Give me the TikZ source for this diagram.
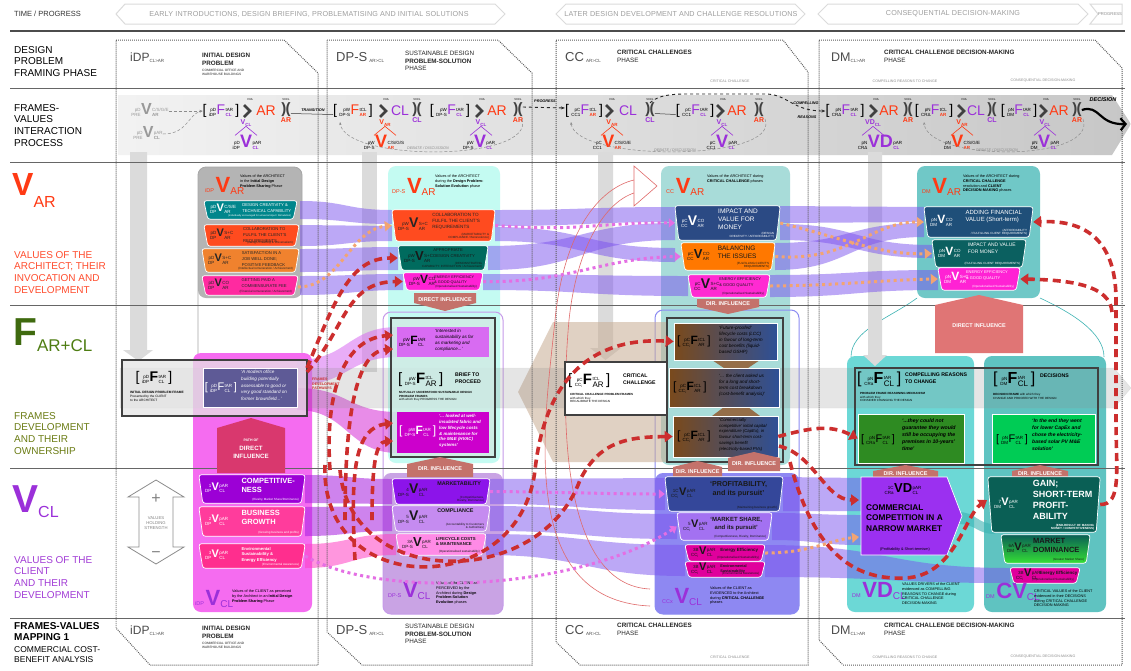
\documentclass[tikz,border=0pt]{standalone}
\usepackage{fontspec}
\setmainfont{Liberation Sans}
\setsansfont{Liberation Sans}
\usetikzlibrary{calc,arrows.meta}

\definecolor{arred}{HTML}{FF3A14}
\definecolor{arlab}{HTML}{FF4D2E}
\definecolor{clp}{HTML}{9B30D9}
\definecolor{cllab}{HTML}{A23CD6}
\definecolor{fgreen}{HTML}{3F6A0F}
\definecolor{fgreen2}{HTML}{4E7D12}
\definecolor{folive}{HTML}{6B7C14}
\definecolor{boxgray}{HTML}{B4B4B4}
\definecolor{ateal}{HTML}{00868C}
\definecolor{aorred}{HTML}{FF4B1F}
\definecolor{aorange}{HTML}{F0822E}
\definecolor{amag}{HTML}{FF2AA0}
\definecolor{pinkbox}{HTML}{F56CF0}
\definecolor{cpurple}{HTML}{9C00D6}
\definecolor{cpink}{HTML}{FF3C9C}
\definecolor{cpink2}{HTML}{FF2E8E}
\definecolor{slate}{HTML}{5E5A96}
\definecolor{pathred}{HTML}{D9386E}
\definecolor{dpcyan}{HTML}{C4FBF2}
\definecolor{dpteal}{HTML}{006B5E}
\definecolor{dpmag}{HTML}{FF22D4}
\definecolor{influ}{HTML}{C4726B}
\definecolor{lavline}{HTML}{C69BE9}
\definecolor{lavfill}{HTML}{C9A3E4}
\definecolor{dpframe}{HTML}{D0EBE5}
\definecolor{lilacbox}{HTML}{D86BF2}
\definecolor{magbox}{HTML}{CC00CC}
\definecolor{dpcpurple}{HTML}{8C14EA}
\definecolor{dpclilac}{HTML}{C58BF0}
\definecolor{dpcpink}{HTML}{FF8AE6}
\definecolor{ccteal}{HTML}{A8DCD9}
\definecolor{ccnavy}{HTML}{2B4A84}
\definecolor{ccorange}{HTML}{FF7800}
\definecolor{ccmag}{HTML}{FF2AD2}
\definecolor{ccline}{HTML}{8C8CF2}
\definecolor{ccfill}{HTML}{8E88F2}
\definecolor{brn}{HTML}{7A4A1C}
\definecolor{steelb}{HTML}{2E5096}
\definecolor{tanc}{HTML}{C8AC93}
\definecolor{ccnavy2}{HTML}{34479A}
\definecolor{cclav}{HTML}{A371F1}
\definecolor{ccmag2}{HTML}{E0009C}
\definecolor{dmteal}{HTML}{70C8C7}
\definecolor{dmnavy}{HTML}{1F4F79}
\definecolor{dmteal2}{HTML}{0B6060}
\definecolor{dmcyan}{HTML}{6CD8D6}
\definecolor{dmcyan2}{HTML}{5FC3C1}
\definecolor{dmgreen}{HTML}{2E8B22}
\definecolor{dmlime}{HTML}{00CC55}
\definecolor{dmred}{HTML}{E07575}
\definecolor{vdpurple}{HTML}{9B30F0}
\definecolor{gaintl}{HTML}{0A5F55}
\definecolor{mkgreen}{HTML}{35E035}
\definecolor{flowp}{HTML}{7B52EE}
\definecolor{flowm}{HTML}{A61EE0}
\definecolor{flowk}{HTML}{FF40C4}
\definecolor{rdash}{HTML}{CC2E2E}
\definecolor{pdot}{HTML}{E46FE4}
\definecolor{odot}{HTML}{F2A472}
\definecolor{hollow}{HTML}{E06A6A}
\definecolor{tealline}{HTML}{3DB3B3}

\newcommand\fs[1]{\fontsize{#1}{#1}\selectfont\setlength\baselineskip{1.18\baselineskip}}
\newcommand\fsl[2]{\fontsize{#1}{#2}\selectfont}
% small stacked pre/post indices
\newcommand\stk[3][r]{{\fontsize{4.5}{5}\selectfont\mdseries\begin{tabular}[c]{@{}#1@{}}#2\\#3\end{tabular}}}
\newcommand\sy[5]{\stk{#1}{#2}\kern.4pt#3\kern.4pt\stk[l]{#4}{#5}}
% header symbol: presub, letter, sub, colour
\newcommand\hs[4]{\textcolor{#4}{{\fsl{5.5}{6}#1}\,{\fsl{22}{22}\bfseries #2}\raisebox{-2.5pt}{\fsl{10}{10}#3}}}
% curved flow band between two vertical spans
\newcommand\band[7][flowAR]{\fill[#1] (#2,#3) .. controls ({(#2+#5)/2},#3) and ({(#2+#5)/2},#6) .. (#5,#6) -- (#5,#7) .. controls ({(#2+#5)/2},#7) and ({(#2+#5)/2},#4) .. (#2,#4) -- cycle;}
% value item: [title font]{fill keys}{text colour}{name}{geometry}{symbol}{title}{note}{title x fraction}
\newcommand\vitem[9][\fsl{4.2}{5.6}]{%
  \node[inner sep=0pt,#5] (#4) {};
  \path[#2,draw=white,line width=.7pt,rounded corners=2.5pt] (#4.north west) -- (#4.north east) -- ([xshift=-4pt]#4.south east) -- ([xshift=4pt]#4.south west) -- cycle;
  \node[anchor=west,inner sep=0pt,text=#3,font=\bfseries\fsl{11}{11}] (#4-s) at ([xshift=6pt,yshift=.5pt]#4.west) {#6};
  \node[anchor=north west,inner sep=0pt,text=#3,align=left,font=#1] (#4-t) at ($(#4.north west)!#9!(#4.north east)+(0,3)$) {#7};
  \node[anchor=south east,inner sep=0pt,text=#3,align=right,font=\fsl{3}{3.6}] (#4-n) at ([xshift=-6pt,yshift=1.5pt]#4.south east) {#8};
}
% interaction-process glyphs
\newcommand\chev[2]{\coordinate (#1) at (#2); \draw[chevs] ([shift={(-3,-6)}]#1) -- ([shift={(3,0)}]#1) -- ([shift={(-3,6)}]#1);
  \node[inner sep=0pt,font=\fsl{2.8}{3}] (#1-v) at ([shift={(3,-11)}]#1) {VXA};}
\newcommand\bow[4]{\node[dbl] (#1) at (#2) {)\kern-.8pt(};
  \node[inner sep=0pt,font=\fsl{2.8}{3}] (#1-v) at ([yshift=10pt]#1.center) {VXCL};
  \node[inner sep=0pt,text=#3,font=\bfseries\fsl{7}{7}] (#1-l) at ([yshift=-10pt]#1.center) {#4};}
\newcommand\smallv[5]{\node[inner sep=0pt,text=#3,font=\bfseries\fsl{7}{7}] (#1) at (#2) {#4\raisebox{-1.5pt}{\fsl{4.5}{4.5}#5}};
  \draw[#3,line width=.6pt] (#1.south) -- +(-11,9); \draw[#3,line width=.6pt] (#1.south) -- +(11,9);}
% phase header row
\newcommand\phasehead[3]{%
 \node[anchor=west,inner sep=0pt,text=black!70,font=\fsl{12}{12}] (idp#3) at (130,#1) {iDP\raisebox{-1pt}{\fsl{4.5}{4.5}CL>AR}};
 \node[txt,text=black!85,font=\bfseries\fsl{6.3}{7.4}] (idpt#3) at (202,{#1-5}) {INITIAL DESIGN\\PROBLEM};
 \node[txt,text=black!85,font=\fsl{3.2}{3.9}] (idps#3) at (202,{#1+11}) {COMMERCIAL OFFICE AND\\WAREHOUSE BUILDINGS};
 \node[anchor=west,inner sep=0pt,text=black!70,font=\fsl{13}{13}] (dps#3) at (336,{#1-1}) {DP-S\,\raisebox{-1pt}{\fsl{4.5}{4.5}AR>CL}};
 \node[txt,text=black!85,font=\fsl{6.3}{7.6}] (dpst#3) at (405,{#1-7}) {SUSTAINABLE DESIGN\\\textbf{PROBLEM-SOLUTION}\\PHASE};
 \node[anchor=west,inner sep=0pt,text=black!70,font=\fsl{13}{13}] (cc#3) at (565,{#1-1}) {CC\,\raisebox{-1pt}{\fsl{4.5}{4.5}AR>CL}};
 \node[txt,text=black!85,font=\fsl{6.3}{7.6}] (cct#3) at (617,{#1-8}) {\textbf{CRITICAL CHALLENGES}\\PHASE};
 \node[anchor=west,inner sep=0pt,text=black!70,font=\fsl{12.5}{12.5}] (dm#3) at (831,#1) {DM\raisebox{-1pt}{\fsl{4.5}{4.5}CL>AR}};
 \node[txt,text=black!85,font=\fsl{6.3}{7.6}] (dmt#3) at (884,{#1-8}) {\textbf{CRITICAL CHALLENGE DECISION-MAKING}\\PHASE};
 \node[inner sep=0pt,text=black!45,font=\fsl{3.6}{4}] (capa#3) at (730,#2) {CRITICAL CHALLENGE};
 \node[inner sep=0pt,text=black!45,font=\fsl{3.6}{4}] (capb#3) at (905,#2) {COMPELLING REASONS TO CHANGE};
 \node[inner sep=0pt,text=black!45,font=\fsl{3.6}{4}] (capc#3) at (1043,#2) {CONSEQUENTIAL DECISION-MAKING};
}

\begin{document}
\begin{tikzpicture}[x=1pt,y=-1pt,
  txt/.style={inner sep=0pt,anchor=north west,align=left},
  rowline/.style={draw=black!60,line width=.9pt},
  phaseline/.style={draw=black!65,line width=1pt,dash pattern=on .9pt off 1.1pt},
  chevron/.style={draw=black!14,line width=1pt,fill=white},
  chevtext/.style={inner sep=0pt,text=black!38,font=\fs{7.2}\addfontfeature{LetterSpace=2.5}},
  gbar/.style={fill=black!14},
  flowAR/.style={fill=flowp,opacity=.5},
  flowCL/.style={fill=flowm,opacity=.55},
  flowPK/.style={fill=flowk,opacity=.55},
  rdarrow/.style={draw=rdash,line width=3.6pt,dash pattern=on 8pt off 5pt,-{Triangle[length=8pt,width=11pt]}},
  pdots/.style={draw=pdot,line width=3pt,dash pattern=on 3pt off 3.5pt,-{Triangle[length=6pt,width=9pt]}},
  odots/.style={draw=odot,line width=3pt,dash pattern=on 3pt off 3.5pt,-{Triangle[length=7pt,width=10pt]}},
  frm/.style={draw=black!75,line width=2pt},
  infltext/.style={inner sep=0pt,text=white,font=\bfseries\fsl{5.5}{6}},
  chevs/.style={draw=black!75,line width=2.6pt,line join=miter},
  dbl/.style={inner sep=0pt,text=black!75,font=\bfseries\fsl{15}{15}},
  big/.style={inner sep=0pt,font=\fsl{14}{14}},
  gdash/.style={draw=black!45,densely dashed,line width=.5pt,-{Stealth[length=3pt]}},
  hollowline/.style={draw=hollow,line width=.6pt},
]
\useasboundingbox (0,0) rectangle (1131,670);
\fill[white] (0,0) rectangle (1131,670);

%% interaction-process band
\shade[left color=black!5,right color=black!22] (118,95) -- (1112,95) -- (1131,124) -- (1112,155) -- (118,155) -- cycle;

%% containers
\path[fill=boxgray,rounded corners=8pt] (198,167) rectangle (302,298);
\draw[black!35,line width=.8pt,rounded corners=8pt] (198,167) rectangle (302,420);
\path[fill=dpcyan,rounded corners=8pt] (388,166) rectangle (500,463);
\path[fill=ccteal,rounded corners=8pt] (661,166) rectangle (790,465);
\path[fill=dmteal,rounded corners=8pt] (917,166) rectangle (1040,298);
\path[fill=pinkbox,rounded corners=8pt] (193,353) rectangle (312,612);
\path[fill=lavfill,rounded corners=8pt] (383,473) rectangle (503,614);
\draw[lavline,line width=1pt,rounded corners=8pt] (383,312) rectangle (503,614);
\path[fill=ccfill,rounded corners=8pt] (655,473) rectangle (799,614);
\draw[ccline,line width=1pt,rounded corners=8pt] (655,310) rectangle (799,614);
\path[fill=dmcyan,rounded corners=8pt] (847,356) rectangle (974,612);
\path[fill=dmcyan2,rounded corners=8pt] (984,356) rectangle (1106,612);
\draw[tealline,line width=.6pt] (851,357) .. controls (851,330) and (890,318) .. (917,298);
\draw[tealline,line width=.6pt] (1104,357) .. controls (1104,332) and (1070,312) .. (1040,298);

%% vertical progress bars
\fill[gbar] (130,152) -- (147,152) -- (147,350) -- (153,350) -- (138.5,361) -- (123,350) -- (130,350) -- cycle;
\fill[gbar] (362,152) rectangle (377,372);
\fill[gbar] (598,152) -- (613,152) -- (613,348) -- (621,348) -- (605.5,360) -- (590,348) -- (598,348) -- cycle;
\fill[gbar] (868,152) -- (882,152) -- (882,355) -- (887,355) -- (875,366) -- (863,355) -- (868,355) -- cycle;

%% frame pathways
\fill[tanc,opacity=.55] (667,322) -- (553,322) -- (518,392) -- (553,462) -- (667,462) -- cycle;
\band[fill=lilacbox,opacity=.55]{297}{360}{385}{398}{327}{357}
\band[fill=magbox,opacity=.45]{297}{388}{410}{398}{412}{453}

%% value flows: architect
\band{300}{201}{219}{392}{210}{224}
\band{300}{225}{246}{392}{226}{241}
\band{300}{249}{272}{398}{247}{270}
\band{300}{276}{295}{403}{274}{290}
\band{495}{210}{226}{675}{207}{222}
\band{495}{227}{241}{675}{248}{262}
\band{488}{246}{270}{675}{223}{240}
\band{483}{274}{290}{688}{276}{296}
\band{780}{206}{223}{924}{207}{222}
\band{780}{224}{240}{932}{245}{258}
\band{775}{243}{270}{924}{223}{237}
\band{770}{275}{297}{938}{270}{290}
%% value flows: client
\band[flowCL]{305}{475}{503}{392}{479}{504}
\band[flowCL]{305}{507}{536}{392}{506}{531}
\band[flowPK]{305}{544}{568}{396}{534}{555}
\band{490}{479}{504}{665}{478}{510}
\band{490}{506}{531}{677}{514}{539}
\band{486}{534}{555}{685}{545}{576}
\band{783}{477}{511}{861}{478}{511}
\band{772}{513}{540}{861}{515}{545}
\band{765}{545}{577}{1010}{568}{583}
\band[fill=tealline,opacity=.6]{958}{512}{524}{995}{524}{534}

%% frames band
\fill[black!45,opacity=.22,draw=black!30] (120,368) -- (1114,368) -- (1131,388) -- (1114,408) -- (120,408) -- cycle;

%% row rules and phase outlines
\draw[draw=black!70,line width=1.2pt] (10,31) -- (1125,31);
\foreach \yy in {88,162,305,468,618} \draw[rowline] (10,\yy) -- (1125,\yy);
\draw[phaseline] (116,40) -- (284,40) -- (318,73) -- (318,665) -- (150,665) -- (116,628) -- cycle;
\draw[phaseline] (327,40) -- (498,40) -- (532,73) -- (532,665) -- (362,665) -- (327,632) -- cycle;
\draw[phaseline] (556,40) -- (783,40) -- (808,72) -- (808,665) -- (580,665) -- (556,642) -- cycle;
\draw[phaseline] (819,40) -- (1095,40) -- (1122,68) -- (1122,665) -- (843,665) -- (819,640) -- cycle;

%% hollow arrow
\draw[hollowline] (650,606) .. controls (515,600) and (545,420) .. (555,320) .. controls (564,230) and (600,188) .. (634,180);
\draw[hollowline] (650,589) .. controls (562,585) and (560,420) .. (569,320) .. controls (577,245) and (606,202) .. (634,193);
\draw[hollowline,fill=white] (634,166) -- (657,186) -- (634,206) -- cycle;

%% time line
\node[anchor=west,inner sep=0pt,text=black!80,font=\fs{7.5}] (tp) at (14,14) {TIME / PROGRESS};
\path[chevron] (116,14) -- (125,4) -- (495,4) -- (505,14) -- (495,24) -- (125,24) -- cycle;
\node[chevtext] (t1) at (309,14) {EARLY INTRODUCTIONS, DESIGN BRIEFING, PROBLEMATISING AND INITIAL SOLUTIONS};
\path[chevron] (556,14) -- (566,4) -- (795,4) -- (805,14) -- (795,24) -- (566,24) -- cycle;
\node[chevtext] (t2) at (681,14) {LATER DESIGN DEVELOPMENT AND CHALLENGE RESOLUTIONS};
\path[chevron] (818,14) -- (828,4) -- (1078,4) -- (1088,14) -- (1078,24) -- (828,24) -- cycle;
\node[chevtext] (t3) at (953,14) {CONSEQUENTIAL DECISION-MAKING};
\path[chevron] (1090,4) -- (1122,4) -- (1122,24) -- (1090,24) -- (1098,14) -- cycle;
\node[inner sep=0pt,text=black!45,font=\fsl{4.2}{5}] (t4) at (1110,14) {PROGRESS};

%% left labels
\node[txt,font=\fs{10}] (lab1) at (14,46) {DESIGN\\PROBLEM\\FRAMING PHASE};
\node[txt,font=\fs{10}] (lab2) at (14,104) {FRAMES-\\VALUES\\INTERACTION\\PROCESS};
\node[anchor=north west,inner sep=0pt,text=arred] (var) at (12,173) {{\fsl{32}{32}\bfseries V}\raisebox{-12pt}{\fsl{16}{16}AR}};
\node[txt,text=arlab,font=\fs{10}] (lab3) at (14,251) {VALUES OF THE\\ARCHITECT; THEIR\\INVOCATION AND\\DEVELOPMENT};
\node[anchor=north west,inner sep=0pt] (far) at (13,318) {\textcolor{fgreen}{\fsl{39}{39}\bfseries F}\raisebox{-6pt}{\textcolor{fgreen2}{\fsl{17}{17}AR+CL}}};
\node[txt,text=folive,font=\fs{10}] (lab4) at (14,412) {FRAMES\\DEVELOPMENT\\AND THEIR\\OWNERSHIP};
\node[anchor=north west,inner sep=0pt,text=clp] (vcl) at (12,485) {{\fsl{39}{39}\bfseries V}\raisebox{-5pt}{\fsl{16}{16}CL}};
\node[txt,text=cllab,font=\fs{10}] (lab5) at (14,556) {VALUES OF THE\\CLIENT\\AND THEIR\\DEVELOPMENT};
\node[txt,font=\bfseries\fs{10}] (lab6) at (14,622) {FRAMES-VALUES\\MAPPING 1};
\node[txt,font=\fsl{8.5}{10}] (lab7) at (14,646) {COMMERCIAL COST-\\BENEFIT ANALYSIS};

%% phase headers
\phasehead{58}{81}{T}
\phasehead{631}{657}{B}

%% ---- frames-values interaction process
\node[inner sep=0pt,text=black!40,font=\bfseries\fsl{16}{16}] (preAR) at (150,111) {\sy{pD}{PRE}{V}{C/S/G/E}{\textbf{AR}}};
\node[inner sep=0pt,text=black!40,font=\bfseries\fsl{16}{16}] (preCL) at (148,134) {\sy{pD}{PRE}{V}{pAR}{\textbf{CL}}};
\node[big] (idpF) at (221,111) {[\,\sy{pD}{iDP}{\textcolor{clp}{F}}{tAR}{\textcolor{clp}{\textbf{CL}}}\,]};
\draw[gdash] (preAR.east) -- (idpF.west);
\draw[gdash] (preCL.east) .. controls (188,134) and (188,114) .. (idpF.west);
\chev{idpC}{247,111}
\node[big,text=arred] (idpAR) at (266,111) {AR};
\bow{idpX}{286,110}{arred}{AR}
\smallv{idpvc}{246,123}{clp}{V}{CL}
\node[inner sep=0pt,font=\fsl{18}{18}] (idpVC) at (247,143) {\sy{pD}{iDP}{\textcolor{clp}{\textbf{V}}}{pAR}{\textcolor{clp}{\textbf{CL}}}};
\node[inner sep=0pt,font=\bfseries\itshape\fsl{3.8}{4}] (trans) at (313,110) {TRANSITION};

\node[big] (dpsF1) at (353,111) {[\,\sy{pW}{DP-S}{\textcolor{arred}{F}}{tCL}{\textcolor{arred}{\textbf{AR}}}\,]};
\draw[black!80,line width=.5pt] ([yshift=-3.5pt]idpX.east) -- ([yshift=-3.5pt]dpsF1.west);
\chev{dpsC1}{383,111}
\node[big,text=clp] (dpsCL) at (400,111) {CL};
\bow{dpsX1}{417,110}{clp}{CL}
\smallv{dpsva}{385,123}{arred}{V}{AR}
\node[inner sep=0pt,font=\fsl{18}{18}] (dpsVA) at (384,143) {\sy{pW}{DP-S}{\textcolor{arred}{\textbf{V}}}{C/S/G/S}{\textcolor{arred}{\textbf{AR}}}};
\node[big] (dpsF2) at (450,111) {[\,\sy{pW}{DP-S}{\textcolor{clp}{F}}{tAR}{\textcolor{clp}{\textbf{CL}}}\,]};
\chev{dpsC2}{479,111}
\node[big,text=arred] (dpsAR) at (497,111) {AR};
\bow{dpsX2}{518,110}{arred}{AR}
\smallv{dpsvc}{481,123}{clp}{V}{CL}
\node[inner sep=0pt,font=\fsl{18}{18}] (dpsVC) at (479,143) {\sy{pW}{DP-S}{\textcolor{clp}{\textbf{V}}}{pAR}{\textcolor{clp}{\textbf{CL}}}};
\draw[gdash] (522,119) .. controls (536,162) and (345,162) .. (340,122);
\node[inner sep=0pt,text=black!45,font=\itshape\fsl{3.8}{4}] (deb1) at (428,148) {DEBATE / DISCUSSION};

\node[big] (ccF1) at (584,111) {[\,\sy{pC}{CC1}{\textcolor{clp}{F}}{tCL}{\textcolor{arred}{\textbf{AR}}}\,]};
\draw[black!85,dashed,line width=.9pt,-{Stealth[length=4pt]}] ([yshift=3pt]dpsX2.east) -- ([yshift=3pt]ccF1.west);
\node[inner sep=0pt,font=\bfseries\itshape\fsl{3.8}{4}] (prog) at (545,101) {PROGRESS};
\chev{ccC1}{609,111}
\node[big,text=clp] (ccCL) at (628,111) {CL};
\bow{ccX1}{650,110}{clp}{CL}
\smallv{ccva}{612,123}{arred}{V}{AR}
\node[inner sep=0pt,font=\fsl{18}{18}] (ccVA) at (612,143) {\sy{pC}{CC1}{\textcolor{arred}{\textbf{V}}}{C/S/G/E}{\textcolor{arred}{\textbf{AR}}}};
\node[big] (ccF2) at (695,111) {[\,\sy{pC}{CC1}{\textcolor{clp}{F}}{tAR}{\textcolor{clp}{\textbf{CL}}}\,]};
\draw[black!80,line width=.5pt] ([yshift=-3.5pt]ccX1.east) -- ([yshift=-3.5pt]ccF2.west);
\chev{ccC2}{720,111}
\node[big,text=arred] (ccAR) at (737,111) {AR};
\bow{ccX2}{759,110}{arred}{AR}
\smallv{ccvc}{722,123}{clp}{V}{CL}
\node[inner sep=0pt,font=\fsl{18}{18}] (ccVC) at (722,143) {\sy{pC}{CC1}{\textcolor{clp}{\textbf{V}}}{pAR}{\textcolor{clp}{\textbf{CL}}}};
\draw[gdash] (765,119) .. controls (782,162) and (575,162) .. (571,122);
\node[inner sep=0pt,text=black!45,font=\itshape\fsl{3.8}{4}] (deb2) at (675,150) {DEBATE / DISCUSSION};

\node[big] (dmF1) at (845,111) {[\,\sy{pN}{CRΔ}{\textcolor{clp}{F}}{tAR}{\textcolor{clp}{\textbf{CL}}}\,]};
\draw[black!85,dashed,line width=.9pt,-{Stealth[length=4pt]}] (ccX1.north) .. controls (660,93) and (680,94) .. (700,94) -- (765,94) .. controls (788,94) and (792,111) .. (dmF1.west);
\node[inner sep=0pt,font=\bfseries\itshape\fsl{3.8}{4}] (comp1) at (806,103) {COMPELLING};
\node[inner sep=0pt,font=\bfseries\itshape\fsl{3.8}{4}] (comp2) at (807,117) {REASONS};
\chev{dmC1}{873,111}
\node[big,text=arred] (dmAR1) at (889,111) {AR};
\bow{dmX1}{908,110}{arred}{AR}
\smallv{dmvd}{873,123}{clp}{VD}{CL}
\node[inner sep=0pt,font=\fsl{18}{18}] (dmVD) at (880,143) {\sy{pN}{CRΔ}{\textcolor{clp}{\textbf{VD}}}{pAR}{\textcolor{clp}{\textbf{CL}}}};
\node[big] (dmF2) at (934,111) {[\,\sy{pN}{CRΔ}{\textcolor{clp}{F}}{tCL}{\textcolor{arred}{\textbf{AR}}}\,]};
\chev{dmC2}{961,111}
\node[big,text=clp] (dmCL) at (976,111) {CL};
\bow{dmX2}{992,110}{clp}{CL}
\smallv{dmva}{962,123}{arred}{V}{AR}
\node[inner sep=0pt,font=\fsl{18}{18}] (dmVA) at (962,143) {\sy{pN}{DM}{\textcolor{arred}{\textbf{V}}}{C/S/G/E}{\textcolor{arred}{\textbf{AR}}}};
\node[big] (dmF3) at (1019,111) {[\,\sy{pN}{DM}{\textcolor{clp}{F}}{tAR}{\textcolor{clp}{\textbf{CL}}}\,]};
\chev{dmC3}{1043,111}
\node[big,text=arred] (dmAR2) at (1059,111) {AR};
\bow{dmX3}{1077,110}{arred}{AR}
\smallv{dmvc}{1045,123}{clp}{V}{CL}
\node[inner sep=0pt,font=\fsl{18}{18}] (dmVC) at (1045,143) {\sy{pN}{DM}{\textcolor{clp}{\textbf{V}}}{pAR}{\textcolor{clp}{\textbf{CL}}}};
\draw[gdash] (1083,119) .. controls (1098,162) and (928,162) .. (924,122);
\node[inner sep=0pt,text=black!45,font=\itshape\fsl{3.8}{4}] (deb3) at (997,150) {DEBATE / DISCUSSION};
\node[inner sep=0pt,font=\bfseries\itshape\fsl{5.5}{6}] (dec) at (1103,100) {DECISION};
\draw[black,line width=2.2pt,-{Straight Barb[length=5pt,width=12pt]}] (dmX3.east) .. controls (1100,104) and (1098,125) .. (1127,124);

%% ---- iDP column
\node[anchor=base west,inner sep=0pt] (iaH) at (205,192) {\hs{iDP}{V}{AR}{arred}};
\node[txt,font=\fsl{3.8}{4.6}] (iaHt) at (240,175) {Values of the ARCHITECT\\in the \textbf{Initial Design}\\\textbf{Problem Sharing} Phase};
\vitem{fill=ateal}{white}{ia1}{at={(250.5,210)},minimum width=93,minimum height=18}{\sy{pD}{DP}{V}{C/S/E}{AR}}{DESIGN CREATIVITY \&\\TECHNICAL CAPABILITY}{\fsl{2.5}{3}(Individually encouraged for universal input / Stimulation)}{.41}
\vitem{fill=aorred}{black!85}{ia2}{at={(251.5,235.5)},minimum width=95,minimum height=21}{\sy{pD}{DP}{V}{S+C}{AR}}{COLLABORATION TO\\FULFIL THE CLIENT'S\\REQUIREMENTS}{(Design Creativity \& Universalism)}{.41}
\vitem{fill=aorange}{black!85}{ia3}{at={(250.5,260.5)},minimum width=97,minimum height=23}{\sy{pD}{DP}{V}{S+C}{AR}}{SATISFACTION IN A\\JOB WELL DONE;\\POSITIVE FEEDBACK}{(Intellectual remuneration / Achievement)}{.41}
\vitem{fill=amag}{black!85}{ia4}{at={(250,285.5)},minimum width=96,minimum height=19}{\sy{pD}{DP}{V}{CO}{AR}}{GETTING PAID A\\COMMENSURATE FEE}{(Financial remuneration / Achievement)}{.41}

\path[fill=black!10,opacity=.75] (122,360) rectangle (307,416);
\node[inner sep=0pt,font=\fsl{14}{14}] (idpFr) at (154,378) {[\,\sy{pD}{iDP}{\textbf{F}}{tAR}{CL}\,]};
\node[txt,font=\fsl{3.2}{3.8}] (idpFrt) at (130,391) {\textbf{INITIAL DESIGN PROBLEM FRAME}\\Presented by the CLIENT\\to the ARCHITECT};
\node[fill=slate,draw=white,line width=.6pt,inner sep=0pt,minimum width=94,minimum height=39] (idpQ) at (250,387.5) {};
\node[inner sep=0pt,text=white,font=\fsl{11}{11}] (idpQs) at (221,388) {[\,\sy{pD}{iDP}{F}{tAR}{CL}\,]};
\node[txt,text=white,font=\itshape\fsl{4.6}{6.8}] (idpQt) at (241,370) {‘A modern office\\building potentially\\assessable to good or\\very good standard on\\former brownfield...’};
\draw[frm] (122,360) rectangle (307,416);
\node[txt,text=rdash,font=\bfseries\fsl{3.6}{4.4}] (fdp) at (312,378) {FRAMES\\DEVELOPMENT\\PATHWAYS};

\path[fill=pathred] (217,428) -- (251,418) -- (285,428) -- (285,473) -- (217,473) -- cycle;
\node[inner sep=0pt,text=white,font=\bfseries\fsl{3.5}{4}] (pathA) at (251,440) {PATH OF};
\node[inner sep=0pt,text=white,align=center,font=\bfseries\fsl{6.2}{8}] (pathB) at (251,452) {DIRECT\\INFLUENCE};

\vitem[\bfseries\fsl{7.5}{9.3}]{fill=cpurple}{white}{ic1}{at={(252,489)},minimum width=106,minimum height=28}{\sy{1}{DP}{V}{pAR}{CL}}{COMPETITIVE-\\NESS}{(Rivalry, Market Share/Dominance)}{.4}
\vitem[\bfseries\fsl{7.5}{9.5}]{fill=cpink}{white}{ic2}{at={(252,521.5)},minimum width=106,minimum height=29}{\sy{2}{DP}{V}{pAR}{CL}}{BUSINESS\\GROWTH}{(Growing business and profits)}{.4}
\vitem[\bfseries\fsl{4.2}{5.8}]{fill=cpink2}{white}{ic3}{at={(252,556)},minimum width=106,minimum height=24}{\sy{3}{DP}{V}{pAR}{CL}}{Environmental\\Sustainability \&\\Energy Efficiency}{(Environmental Awareness)}{.4}
\node[anchor=base west,inner sep=0pt] (icF) at (195,605) {\hs{iDP}{V}{CL}{clp}};
\node[txt,font=\fsl{3.8}{4.6}] (icFt) at (232,590) {Values of the CLIENT as perceived\\by the Architect in an \textbf{Initial Design}\\\textbf{Problem Sharing} Phase};

\path[draw=black!45,fill=white,line width=.8pt] (156,480) -- (184,497) -- (173,497) -- (173,547) -- (184,547) -- (156,564) -- (128,547) -- (139,547) -- (139,497) -- (128,497) -- cycle;
\node[inner sep=0pt,text=black!50,font=\fsl{16}{16}] (plus) at (156,499) {+};
\node[inner sep=0pt,text=black!50,font=\fsl{16}{16}] (minus) at (156,555) {−};
\node[inner sep=0pt,text=black!50,align=center,font=\fsl{4.2}{5.2}] (vhs) at (156,523) {VALUES\\HOLDING\\STRENGTH};

%% ---- DP-S column
\node[anchor=base west,inner sep=0pt] (daH) at (392,193) {\hs{DP-S}{V}{AR}{arred}};
\node[txt,font=\fsl{3.8}{4.6}] (daHt) at (435,175) {Values of the ARCHITECT\\during the \textbf{Design Problem-}\\\textbf{Solution Evolution} phase};
\vitem[\fsl{4.6}{6.2}]{fill=aorred}{black!85}{da1}{at={(443.5,225.5)},minimum width=103,minimum height=31}{\fsl{14}{14}\sy{pW}{DP-S}{V}{S+C}{AR}}{COLLABORATION TO\\FULFIL THE CLIENT'S\\REQUIREMENTS}{(MARKETABILITY \&\\COMPLIANCE / Benevolence)}{.39}
\vitem[\fsl{4.2}{5.6}]{fill=dpteal}{black!90}{da2}{at={(443,258)},minimum width=90,minimum height=24}{\fsl{13}{13}\sy{pW}{DP-S}{V}{S+C}{AR}}{APPROPRIATE\\DESIGN CREATIVITY}{(DEMONSTRATING\\CAPABILITY: INTERACTION / Achievement)}{.39}
\vitem[\fsl{3.8}{4.8}]{fill=dpmag}{black!90}{da3}{at={(443,281.5)},minimum width=80,minimum height=17}{\fsl{12}{12}\sy{pW}{DP-S}{V}{CO}{AR}}{ENERGY EFFICIENCY\\\& GOOD QUALITY}{(Operationalised Sustainability)}{.39}
\path[fill=influ] (414,293) -- (476,293) -- (476,303) -- (445,311) -- (414,303) -- cycle;
\node[infltext] (daDI) at (445,300) {DIRECT INFLUENCE};

\path[fill=dpframe,opacity=.85] (391,318) rectangle (495,457);
\node[fill=lilacbox,inner sep=0pt,minimum width=92,minimum height=30] (dpsQ1) at (443,342) {};
\node[anchor=west,inner sep=0pt,font=\fsl{12}{12}] (dpsQ1s) at (399,342) {\sy{pW}{DP-S}{\textbf{F}}{tAR}{CL}};
\node[txt,font=\itshape\fsl{4.5}{6}] (dpsQ1t) at (435,329) {‘Interested in\\sustainability as far\\as marketing and\\compliance...’};
\node[anchor=west,inner sep=0pt,font=\fsl{15}{15}] (dpsFr) at (398,380) {[\,\sy{pW}{DP-S}{\textbf{F}}{tCL}{\fsl{8}{8}AR}\,]};
\node[txt,font=\bfseries\fsl{5.2}{6.5}] (dpsFrt) at (455,373) {BRIEF TO\\PROCEED};
\node[txt,font=\fsl{3}{3.8}] (dpsFrn) at (399,391) {\textbf{MUTUALLY UNDERSTOOD SUSTAINABLE DESIGN}\\\textbf{PROBLEM FRAMES}\\with which they PROGRESS THE DESIGN};
\node[fill=magbox,inner sep=0pt,minimum width=92,minimum height=41] (dpsQ2) at (443,432.5) {};
\node[anchor=west,inner sep=0pt,text=white,font=\fsl{12}{12}] (dpsQ2s) at (399,432) {[\,\sy{pW}{DP-S}{\textbf{F}}{tAR}{CL}\,]};
\node[txt,text=white,font=\bfseries\itshape\fsl{4.4}{5.9}] (dpsQ2t) at (439,414) {‘... looked at well-\\insulated fabric and\\low lifecycle costs\\\& maintenance for\\the M\&E (HVAC)\\systems’};
\draw[frm] (391,318) rectangle (495,457);
\path[fill=influ] (407,464) -- (440,457) -- (473,464) -- (473,477) -- (407,477) -- cycle;
\node[infltext] (dcDI) at (440,469) {DIR. INFLUENCE};

\vitem[\bfseries\fsl{5.4}{6.4}]{fill=dpcpurple}{black!90}{dc1}{at={(441,491.5)},minimum width=98,minimum height=25}{\fsl{14}{14}\sy{4}{DP-S}{V}{pAR}{CL}}{MARKETABILITY}{(Competitiveness,\\Rivalry, Dominance)}{.46}
\vitem[\bfseries\fsl{5.4}{6.4}]{fill=dpclilac}{black!90}{dc2}{at={(441,518.5)},minimum width=98,minimum height=25}{\fsl{14}{14}\sy{5}{DP-S}{V}{pAR}{CL}}{COMPLIANCE}{(Accountability to Customers\\\& Authorities)}{.46}
\vitem[\bfseries\fsl{4.3}{5.6}]{fill=dpcpink}{black!90}{dc3}{at={(441,544.5)},minimum width=90,minimum height=21}{\fsl{13}{13}\sy{3A}{DP-S}{V}{pAR}{CL}}{LIFECYCLE COSTS\\\& MAINTENANCE}{(Operationalised sustainability)}{.44}
\node[anchor=base west,inner sep=0pt] (dcF) at (388,597) {\hs{DP-S}{V}{CL}{clp}};
\node[txt,font=\fsl{3.8}{4.6}] (dcFt) at (436,582) {Values of the CLIENT as\\PERCEIVED by the\\Architect during \textbf{Design}\\\textbf{Problem-Solution}\\\textbf{Evolution} phases};

%% ---- CC column
\node[anchor=base west,inner sep=0pt] (caH) at (666,193) {\hs{CC}{V}{AR}{arred}};
\node[txt,font=\fsl{3.8}{4.6}] (caHt) at (707,175) {Values of the ARCHITECT during\\\textbf{CRITICAL CHALLENGE} phases};
\vitem[\fsl{6.5}{7.8}]{fill=ccnavy}{white}{ca1}{at={(727.5,223)},minimum width=105,minimum height=34}{\fsl{14}{14}\sy{pC}{CC}{V}{CO}{AR}}{IMPACT AND\\VALUE FOR\\MONEY}{(DESIGN\\CREATIVITY / AFFORDABILITY)}{.41}
\vitem[\fsl{6.5}{7.8}]{fill=ccorange}{black!90}{ca2}{at={(728,256.5)},minimum width=94,minimum height=27}{\fsl{13}{13}\sy{pC}{CC}{V}{CO}{AR}}{BALANCING\\THE ISSUES}{(FULFILLING CLIENT'S\\REQUIREMENTS)}{.39}
\vitem[\fsl{4}{5.2}]{fill=ccmag}{black!90}{ca3}{at={(729,286)},minimum width=82,minimum height=22}{\fsl{14}{14}\sy{pC}{CC}{V}{S+C}{AR}}{ENERGY EFFICIENCY\\\& GOOD QUALITY}{(Operationalised Sustainability)}{.38}
\path[fill=influ] (697,299) -- (759,299) -- (759,307) -- (728,314) -- (697,307) -- cycle;
\node[infltext] (caDI) at (728,304) {DIR. INFLUENCE};

\node[frm,fill=white,inner sep=0pt,minimum width=102,minimum height=53] (ccFr) at (616,388.5) {};
\node[anchor=west,inner sep=0pt,font=\fsl{15}{15}] (ccFrs) at (568,381) {[\,\sy{pC}{CC\textsubscript{i}}{\textbf{F}}{tCL}{\fsl{8}{8}AR}\,]};
\node[txt,font=\bfseries\fsl{5.2}{6.5}] (ccFrt) at (623,374) {CRITICAL\\CHALLENGE};
\node[txt,font=\fsl{3}{3.8}] (ccFrn) at (570,393) {\textbf{CRITICAL CHALLENGE PROBLEM FRAMES}\\with which they\\RECALIBRATE THE DESIGN};
\fill[brn!80] (712,360) -- (760,360) -- (748,368) -- (724,368) -- cycle;
\fill[brn!80] (724,407) -- (748,407) -- (760,416) -- (712,416) -- cycle;
\node[draw=white,line width=.6pt,left color=brn,right color=steelb,inner sep=0pt,minimum width=103,minimum height=37] (ccQ1) at (725.5,341.5) {};
\node[anchor=west,inner sep=0pt,font=\fsl{12}{12}] (ccQ1s) at (677,342) {[\,\sy{pC}{CC\textsubscript{i}}{\textbf{F}}{tCL}{AR}\,]};
\node[txt,font=\itshape\fsl{4.6}{6}] (ccQ1t) at (719,326) {‘Future-proofed’\\lifecycle costs (LCC)\\in favour of long-term\\cost benefits (liquid-\\based GSHP)};
\node[draw=white,line width=.6pt,left color=brn,right color=steelb,inner sep=0pt,minimum width=110,minimum height=39] (ccQ2) at (724,387.5) {};
\node[anchor=west,inner sep=0pt,font=\fsl{12}{12}] (ccQ2s) at (673,388) {[\,\sy{pC}{CC\textsubscript{i}}{\textbf{F}}{tCL}{AR}\,]};
\node[txt,font=\itshape\fsl{4.6}{6}] (ccQ2t) at (719,374) {‘... the client asked us\\for a long and short-\\term cost breakdown\\(cost-benefit analysis)’};
\node[draw=white,line width=.6pt,left color=brn,right color=steelb,inner sep=0pt,minimum width=105,minimum height=41] (ccQ3) at (725.5,436.5) {};
\node[anchor=west,inner sep=0pt,font=\fsl{12}{12}] (ccQ3s) at (677,437) {[\,\sy{pC}{CC\textsubscript{i}}{\textbf{F}}{tCL}{AR}\,]};
\node[txt,font=\itshape\fsl{4.3}{5.8}] (ccQ3t) at (719,418) {‘Commercially\\competitive’ initial capital\\expenditure (CapEx), in\\favour short-term cost-\\savings benefit\\(electricity-based PVs)};
\draw[frm] (667,318) rectangle (783,462);
\path[fill=influ] (673,467) -- (697.5,461) -- (722,467) -- (722,480) -- (673,480) -- cycle;
\node[infltext] (ccDI1) at (697.5,472) {DIR. INFLUENCE};
\path[fill=influ] (728,458) -- (754,452) -- (780,458) -- (780,471) -- (728,471) -- cycle;
\node[infltext] (ccDI2) at (754,464) {DIR. INFLUENCE};

\vitem[\bfseries\fsl{7.2}{9.2}]{fill=ccnavy2}{black!90}{cc1}{at={(724,494)},minimum width=118,minimum height=34}{\sy{1C}{CC\textsubscript{i}}{V}{pAR}{CL}}{\begin{tabular}{@{}c@{}}‘PROFITABILITY,\\and its pursuit’\end{tabular}}{(Maintaining business growth)}{.38}
\vitem[\bfseries\fsl{6}{7.8}]{fill=cclav}{black!90}{cc2}{at={(724.5,526.5)},minimum width=95,minimum height=27}{\sy{5}{CC\textsubscript{i}}{V}{pAR}{CL}}{\begin{tabular}{@{}c@{}}‘MARKET SHARE,\\and its pursuit’\end{tabular}}{(Competitiveness, Rivalry, Dominance)}{.35}
\vitem[\bfseries\fsl{4.5}{5}]{fill=ccmag2}{black!90}{cc3}{at={(725,553)},minimum width=80,minimum height=16}{\sy{3B}{CC\textsubscript{i}}{V}{pAR}{CL}}{Energy Efficiency}{(Operationalised Sustainability)}{.44}
\vitem[\bfseries\fsl{3.8}{4.3}]{fill=ccmag2}{black!90}{cc4}{at={(725,569.5)},minimum width=80,minimum height=15}{\sy{3B}{CC\textsubscript{i}}{V}{pAR}{CL}}{Environmental\\Sustainability}{(Environmental Awareness)}{.44}
\node[anchor=base west,inner sep=0pt] (ccF) at (662,603) {\hs{CCx}{V}{CL}{clp}};
\node[txt,font=\fsl{3.8}{4.6}] (ccFt) at (710,587) {Values of the CLIENT as\\EVIDENCED to the Architect\\during \textbf{CRITICAL CHALLENGE}\\phases};

%% ---- DM column
\node[anchor=base west,inner sep=0pt] (maH) at (922,193) {\hs{DM}{V}{AR}{arred}};
\node[txt,font=\fsl{3.8}{4.6}] (maHt) at (963,175) {Values of the ARCHITECT during\\\textbf{CRITICAL CHALLENGE}\\resolution and \textbf{CLIENT}\\\textbf{DECISION-MAKING} phases};
\vitem[\fsl{6}{7.6}]{fill=dmnavy}{white}{ma1}{at={(978.5,222)},minimum width=109,minimum height=30}{\fsl{12}{12}\sy{pN}{DM}{V}{CO}{AR}}{ADDING FINANCIAL\\VALUE (Short-term)}{(AFFORDABILITY\\/ FULFILLING CLIENT REQUIREMENTS)}{.38}
\vitem[\fsl{5}{6.6}]{fill=dmteal2}{white}{ma2}{at={(979,253.5)},minimum width=94,minimum height=27}{\fsl{12}{12}\sy{pN}{DM}{V}{CO}{AR}}{IMPACT AND VALUE\\FOR MONEY}{(FULFILLING CLIENT REQUIREMENTS)}{.38}
\vitem[\fsl{4}{5.2}]{fill=dpmag}{white}{ma3}{at={(979,279)},minimum width=82,minimum height=22}{\fsl{12}{12}\sy{pN}{DM}{V}{S+C}{AR}}{ENERGY EFFICIENCY\\\& GOOD QUALITY}{(Operationalised Sustainability)}{.34}
\path[fill=dmred] (935,305) -- (979,295) -- (1023,305) -- (1023,353) -- (935,353) -- cycle;
\node[infltext] (maDI) at (979,326) {DIRECT INFLUENCE};

\node[anchor=west,inner sep=0pt,font=\fsl{16}{16}] (dmFr1) at (857,380) {[\,\sy{pN}{CRa}{\textbf{F}}{tAR}{\fsl{8}{8}CL}\,]};
\node[txt,font=\bfseries\fsl{5.2}{6.5}] (dmFr1t) at (905,373) {COMPELLING REASONS\\TO CHANGE};
\node[txt,font=\fsl{3}{3.8}] (dmFr1s) at (860,392) {\textbf{PROBLEM FRAME REASONING MECHANISM}\\with which they\\CONSIDER CHANGING THE DESIGN};
\node[anchor=west,inner sep=0pt,font=\fsl{16}{16}] (dmFr2) at (993,380) {[\,\sy{pN}{DM}{\textbf{F}}{tAR}{\fsl{8}{8}CL}\,]};
\node[txt,font=\bfseries\fsl{5.2}{6.5}] (dmFr2t) at (1040,374) {DECISIONS};
\node[txt,font=\fsl{3}{3.8}] (dmFr2s) at (993,393) {\textbf{DECISION FRAME} with which they\\CHANGE AND PROCEED WITH THE DESIGN};
\node[fill=dmgreen,draw=white,line width=.6pt,inner sep=0pt,minimum width=106,minimum height=49] (dmQ1) at (911,438.5) {};
\node[anchor=west,inner sep=0pt,font=\fsl{11}{11}] (dmQ1s) at (861,440) {[\,\sy{pN}{CRa}{F}{tAR}{CL}\,]};
\node[txt,font=\bfseries\itshape\fsl{5.2}{7}] (dmQ1t) at (902,419) {‘...they could not\\guarantee they would\\still be occupying the\\premises in 10-years’\\time’};
\node[fill=dmlime,draw=white,line width=.6pt,inner sep=0pt,minimum width=103,minimum height=49] (dmQ2) at (1043.5,438.5) {};
\node[anchor=west,inner sep=0pt,font=\fsl{11}{11}] (dmQ2s) at (996,440) {[\,\sy{pN}{DM}{F}{tAR}{CL}\,]};
\node[txt,font=\bfseries\itshape\fsl{5}{7}] (dmQ2t) at (1032,419) {‘In the end they went\\for lower CapEx and\\chose the electricity-\\based solar PV M\&E\\solution’};
\draw[frm] (855,368) rectangle (1098,465);
\path[fill=influ] (873,471) -- (905.5,465) -- (938,471) -- (938,479) -- (873,479) -- cycle;
\node[infltext] (mDI1) at (905.5,473.5) {DIR. INFLUENCE};
\path[fill=influ] (1012,471) -- (1040,465) -- (1068,471) -- (1068,479) -- (1012,479) -- cycle;
\node[infltext] (mDI2) at (1040,473.5) {DIR. INFLUENCE};

\path[fill=vdpurple,draw=white,line width=.7pt] (861,477) -- (947,477) -- (962,516) -- (947,555) -- (861,555) -- cycle;
\node[inner sep=0pt,minimum width=101,minimum height=78] (vdbox) at (911.5,516) {};
\node[inner sep=0pt,font=\bfseries\fsl{13}{13}] (vds) at (903,490) {\sy{1C}{CRa}{VD}{pAR}{CL}};
\node[txt,font=\bfseries\fsl{8.3}{10.5}] (vdt) at (866,504) {COMMERCIAL\\COMPETITION IN A\\NARROW MARKET};
\node[inner sep=0pt,font=\fsl{3.8}{4.2}] (vdn) at (905,550) {(Profitability \& Short-termism)};
\node[anchor=base west,inner sep=0pt] (vdF) at (852,597) {\hs{DM}{VD}{CL}{clp}};
\node[txt,font=\fsl{3.8}{4.6}] (vdFt) at (902,583) {VALUES DRIVERS of the CLIENT\\evidenced as COMPELLING\\REASONS TO CHANGE during\\CRITICAL CHALLENGE\\DECISION-MAKING};

\vitem[\bfseries\fsl{9}{11}]{fill=gaintl}{white}{mc1}{at={(1044,504.5)},minimum width=112,minimum height=55}{\sy{7}{DM}{V}{pAR}{CL}}{GAIN;\\SHORT-TERM\\PROFIT-\\ABILITY}{\textbf{(END-RESULT OF MAKING}\\\textbf{MONEY / COMPETITIVENESS)}}{.4}
\vitem[\bfseries\fsl{7.5}{9}]{top color=gaintl,bottom color=mkgreen}{black!90}{mc2}{at={(1045.5,549)},minimum width=89,minimum height=28}{\sy{6A}{DM}{V}{pAR}{CL}}{MARKET\\DOMINANCE}{(Greater Market Share)}{.36}
\vitem[\bfseries\fsl{4.5}{5}]{fill=ccmag2}{black!90}{mc3}{at={(1045,575.5)},minimum width=70,minimum height=15}{\sy{3B}{CC\textsubscript{i}}{V}{pAR}{CL}}{Energy Efficiency}{(Operationalised Sustainability)}{.42}
\node[anchor=base west,inner sep=0pt] (cvF) at (986,598) {\hs{DM}{CV}{CL}{clp}};
\node[txt,font=\fsl{3.8}{4.6}] (cvFt) at (1034,590) {CRITICAL VALUES of the CLIENT\\evidenced in their DECISIONS\\during CRITICAL CHALLENGE\\DECISION-MAKING};

%% ---- dotted value transfers
\draw[odots] (298,287) .. controls (340,287) and (350,230) .. (da1.west);
\draw[pdots] (da1.east) .. controls (580,232) and (600,222) .. (ca1.west);
\draw[pdots] (da3.east) .. controls (570,283) and (600,258) .. (ca2.west);
\draw[pdots] (dc1.east) .. controls (570,492) and (600,494) .. (cc1.west);
\draw[pdots] (ic3.east) .. controls (380,600) and (580,590) .. (cc2.west);
\draw[odots] (ca1.east) .. controls (850,240) and (880,255) .. (ma2.west);
\draw[odots] (ca2.east) .. controls (850,262) and (870,222) .. (ma1.west);
\draw[odots] (ca3.east) .. controls (850,285) and (880,280) .. (ma3.west);
\draw[odots] (cc3.east) .. controls (810,553) and (830,540) .. (859,537);

%% ---- frame development pathways
\draw[rdarrow] (307,372) .. controls (345,330) and (345,282) .. (da3.west);
\draw[rdarrow] (307,368) .. controls (335,300) and (350,258) .. (da2.west);
\draw[rdarrow] (330,470) .. controls (325,400) and (340,340) .. (393,335);
\draw[rdarrow] (345,520) .. controls (345,420) and (355,352) .. (393,349);
\draw[rdarrow] (355,560) .. controls (350,470) and (355,428) .. (393,423);
\draw[rdarrow] (372,520) .. controls (372,470) and (375,442) .. (393,441);
\draw[rdarrow] (325,465) .. controls (320,600) and (520,600) .. (535,470) .. controls (545,380) and (590,337) .. (ccQ1.west);
\draw[rdarrow] (340,470) .. controls (350,590) and (540,590) .. (580,480) .. controls (600,440) and (630,437) .. (ccQ3.west);
\draw[rdarrow] (ccQ3.east) .. controls (810,428) and (830,424) .. (dmQ1.west);
\draw[rdarrow] (779,446) .. controls (815,455) and (825,500) .. (859,500);
\draw[rdarrow] (790,462) .. controls (815,560) and (860,580) .. (905,578) .. controls (955,576) and (965,515) .. (987,500);
\draw[rdarrow] (mc1.east) .. controls (1122,505) and (1116,470) .. (1116,420) -- (1116,300) .. controls (1116,235) and (1080,220) .. (ma1.east);
\draw[rdarrow] (1112,312) .. controls (1110,285) and (1070,280) .. (ma3.east);
\end{tikzpicture}
\end{document}
